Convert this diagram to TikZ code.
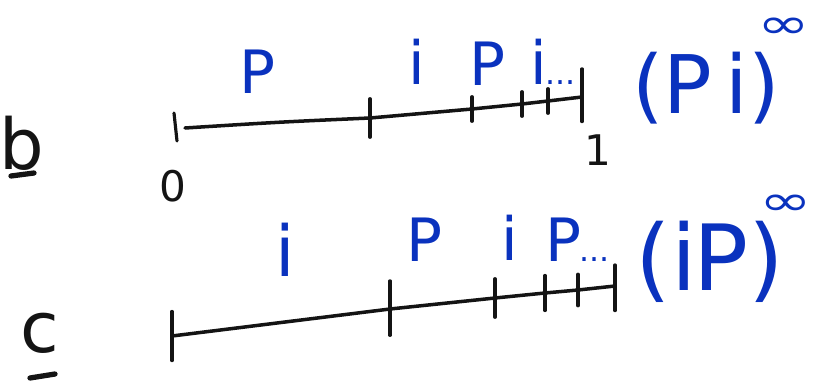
\documentclass[tikz,border=0pt]{standalone}
\usepackage{fontspec}
\setmainfont{DejaVu Sans}
\definecolor{ink}{RGB}{20,20,20}
\definecolor{pen}{RGB}{10,50,190}
\tikzset{
  axis/.style={draw=ink, line width=2pt, line cap=round},
  tick/.style={draw=ink, line width=1.8pt, line cap=round},
  blue lbl/.style={text=pen, inner sep=0pt, font=\fontsize{34}{38}\selectfont},
  big lbl/.style={text=pen, inner sep=0pt, font=\fontsize{46}{52}\selectfont},
  inf lbl/.style={text=pen, inner sep=0pt, xscale=1.5, font=\fontsize{24}{28}\selectfont},
  blk lbl/.style={text=ink, inner sep=0pt, font=\fontsize{24}{28}\selectfont},
  row lbl/.style={text=ink, inner sep=0pt, font=\fontsize{40}{44}\selectfont},
  uline/.style={draw=ink, line width=3pt, line cap=round}
}
\begin{document}
\begin{tikzpicture}[x=0.02cm, y=-0.02cm]
\useasboundingbox (0,0) rectangle (813,385);
% row labels
\node[row lbl] (lb) at (22,143) {b};
\coordinate (ub1) at (11,176); \coordinate (ub2) at (34,173);
\draw[uline] (ub1) -- (ub2);
\node[row lbl] (lc) at (40,333) {c};
\coordinate (uc1) at (30,378); \coordinate (uc2) at (55,374);
\draw[uline] (uc1) -- (uc2);

% line b
\coordinate (b0) at (185,128);
\coordinate (b1) at (370,118);
\coordinate (b2) at (472,109);
\coordinate (b3) at (522,104);
\coordinate (b4) at (548,101);
\coordinate (b5) at (582,97);
\draw[axis] (b0) .. controls (280,122) .. (b1) -- (b2) -- (b3) -- (b4) -- (b5);
\coordinate (bs1) at (174,113); \coordinate (bs2) at (177,141);
\draw[tick] (bs1) -- (bs2);
\draw[tick] ([yshift=-11]b1) -- ([yshift=11]b1);
\draw[tick] ([yshift=-7]b2) -- ([yshift=7]b2);
\draw[tick] ([yshift=-7]b3) -- ([yshift=7]b3);
\draw[tick] ([yshift=-7]b4) -- ([yshift=7]b4);
\draw[tick] ([yshift=-14]b5) -- ([yshift=16]b5);
\node[blk lbl] (zero) at (173,186) {0};
\node[blk lbl] (one) at (598,150) {1};
\node[blue lbl] (bp1) at (258,72) {P};
\node[blue lbl] (bi1) at (417,62) {i};
\node[blue lbl] (bp2) at (487,64) {P};
\node[blue lbl, anchor=west] (bi2) at (530,62) {i\kern-1pt\fontsize{18}{20}\selectfont...};
\node[big lbl] (bpi) at (706,88) {(P\,i)};
\node[inf lbl] (binf) at (784,28) {∞};

% line c
\coordinate (c0) at (172,336);
\coordinate (c1) at (390,309);
\coordinate (c2) at (495,298);
\coordinate (c3) at (545,293);
\coordinate (c4) at (578,290);
\coordinate (c5) at (615,286);
\draw[axis] (c0) -- (c1) -- (c2) -- (c3) -- (c4) -- (c5);
\draw[tick] ([yshift=-14]c0) -- ([yshift=14]c0);
\draw[tick] ([yshift=-15]c1) -- ([yshift=16]c1);
\draw[tick] ([yshift=-11]c2) -- ([yshift=11]c2);
\draw[tick] ([yshift=-10]c3) -- ([yshift=10]c3);
\draw[tick] ([yshift=-9]c4) -- ([yshift=9]c4);
\draw[tick] ([yshift=-14]c5) -- ([yshift=12]c5);
\node[blue lbl, font=\fontsize{40}{44}\selectfont] (ci1) at (285,250) {i};
\node[blue lbl] (cp1) at (425,240) {P};
\node[blue lbl] (ci2) at (510,238) {i};
\node[blue lbl, anchor=west] (cp2) at (545,240) {P\kern-1pt\fontsize{18}{20}\selectfont...};
\node[big lbl, font=\fontsize{52}{58}\selectfont] (cip) at (710,262) {(i\kern-2ptP)};
\node[inf lbl] (cinf) at (786,205) {∞};
\end{tikzpicture}
\end{document}
